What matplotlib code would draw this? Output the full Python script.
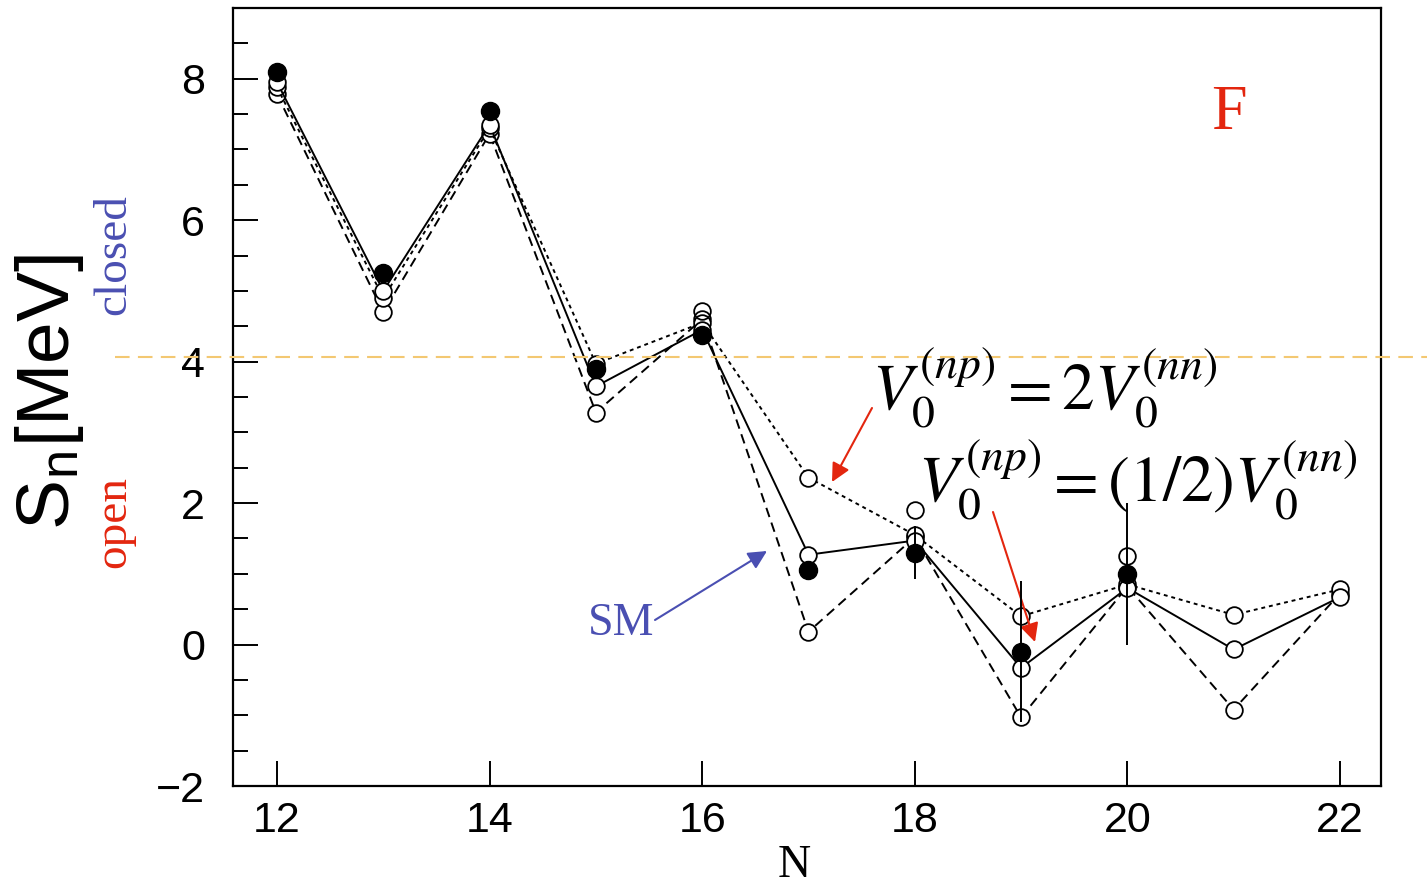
import matplotlib
matplotlib.use("Agg")
import matplotlib.pyplot as plt
import matplotlib.transforms as mtransforms
from matplotlib.ticker import MultipleLocator

plt.rcParams['font.family'] = ['Liberation Sans', 'DejaVu Sans']
plt.rcParams['mathtext.fontset'] = 'stix'

# neutron number
N = [12, 13, 14, 15, 16, 17, 18, 19, 20, 21, 22]

# calculations (open circles)
sm_vals = [7.95, 5.00, 7.35, 3.65, 4.45, 1.27, 1.47, -0.33, 0.80, -0.07, 0.67]    # solid, SM
np2_vals = [7.88, 4.90, 7.30, 3.97, 4.55, 2.36, 1.55, 0.40, 0.85, 0.42, 0.78]    # V0(np) = 2 V0(nn)
nphalf_vals = [7.78, 4.70, 7.22, 3.28, 4.60, 0.18, 1.52, -1.03, 0.82, -0.92, 0.72]  # V0(np) = 1/2 V0(nn)

# isolated open points
extra_N = [16, 18, 20]
extra_vals = [4.72, 1.90, 1.25]

# experiment (filled)
exp_N = [12, 13, 14, 15, 16, 17, 18, 19, 20]
exp_vals = [8.10, 5.25, 7.55, 3.90, 4.38, 1.05, 1.30, -0.10, 1.00]
exp_err = [0, 0, 0, 0, 0, 0, 0.38, 1.0, 1.0]

threshold = 4.07

W, H = 1427, 890
fig = plt.figure(figsize=(W / 100, H / 100), dpi=100)
ax = fig.add_axes([233 / W, 1 - 786 / H, (1381 - 233) / W, (786 - 8) / H])


def fp(x, y):
    # figure pixel -> figure fraction
    return (x / W, 1 - y / H)


mk = dict(marker='o', ms=12, mfc='white', mec='k', mew=1.3, color='k', lw=1.4)
ax.plot(N, nphalf_vals, ls=(0, (5, 3)), **mk)
ax.plot(N, np2_vals, ls=(0, (2, 2)), **mk)
ax.plot(N, sm_vals, ls='-', **mk)
ax.plot(extra_N, extra_vals, ls='none', marker='o', ms=12, mfc='none', mec='k', mew=1.3)
ax.errorbar(exp_N, exp_vals, yerr=exp_err, fmt='o', color='k', ms=13,
            elinewidth=1.4, capsize=0, zorder=5)

ax.set_xlim(11.586, 22.386)
ax.set_ylim(-2, 9.0)
ax.set_xticks([12, 14, 16, 18, 20, 22])
ax.set_yticks([-2, 0, 2, 4, 6, 8])
ax.yaxis.set_minor_locator(MultipleLocator(0.5))
ax.tick_params(axis='x', which='major', direction='in', length=18, width=1.4,
               labelsize=31, pad=11, top=False)
ax.tick_params(axis='y', which='major', direction='in', length=18, width=1.4,
               labelsize=31, pad=20, right=False)
ax.tick_params(axis='y', which='minor', direction='in', length=11, width=1.4, right=False)
for s in ax.spines.values():
    s.set_linewidth(1.6)

# threshold line across the whole figure
tr = mtransforms.blended_transform_factory(fig.transFigure, ax.transData)
ax.plot([115 / W, 1.0], [threshold, threshold], transform=tr, clip_on=False,
        color='#f3c872', lw=1.5, ls=(0, (7, 4)), zorder=6)

red = '#e3260f'
blue = '#4a4fb2'

fig.text(*fp(50, 392), r'S$_\mathregular{n}$[MeV]', rotation=90, fontsize=54,
         ha='center', va='center')
fig.text(*fp(125, 255), 'closed', rotation=90, fontsize=34, color=blue,
         family='Liberation Serif', ha='center', va='baseline', rotation_mode='anchor')
fig.text(*fp(125, 522), 'open', rotation=90, fontsize=34, color=red,
         family='Liberation Serif', ha='center', va='baseline', rotation_mode='anchor')
fig.text(*fp(794, 877), 'N', fontsize=33, family='Liberation Serif',
         ha='center', va='baseline')
fig.text(*fp(1229, 129), 'F', fontsize=46, color=red, family='Liberation Serif',
         ha='center', va='baseline')
fig.text(*fp(621, 635), 'SM', fontsize=33, color=blue, family='Liberation Serif',
         ha='center', va='baseline')

fig.text(*fp(872, 410), r'$V_0^{(np)} = 2V_0^{(nn)}$', fontsize=47,
         ha='left', va='baseline')
fig.text(*fp(918, 502), r'$V_0^{(np)} = (1/2)V_0^{(nn)}$', fontsize=47,
         ha='left', va='baseline')

arrows = [((655, 620), (767, 551), blue),
          ((872, 408), (832, 482), red),
          ((993, 512), (1035, 642), red)]
for tail, tip, c in arrows:
    ax.annotate('', xy=fp(*tip), xycoords='figure fraction',
                xytext=fp(*tail), textcoords='figure fraction',
                arrowprops=dict(arrowstyle='-|>', color=c, lw=1.5,
                                mutation_scale=28, shrinkA=0, shrinkB=0))

fig.savefig('out.png', dpi=100)
